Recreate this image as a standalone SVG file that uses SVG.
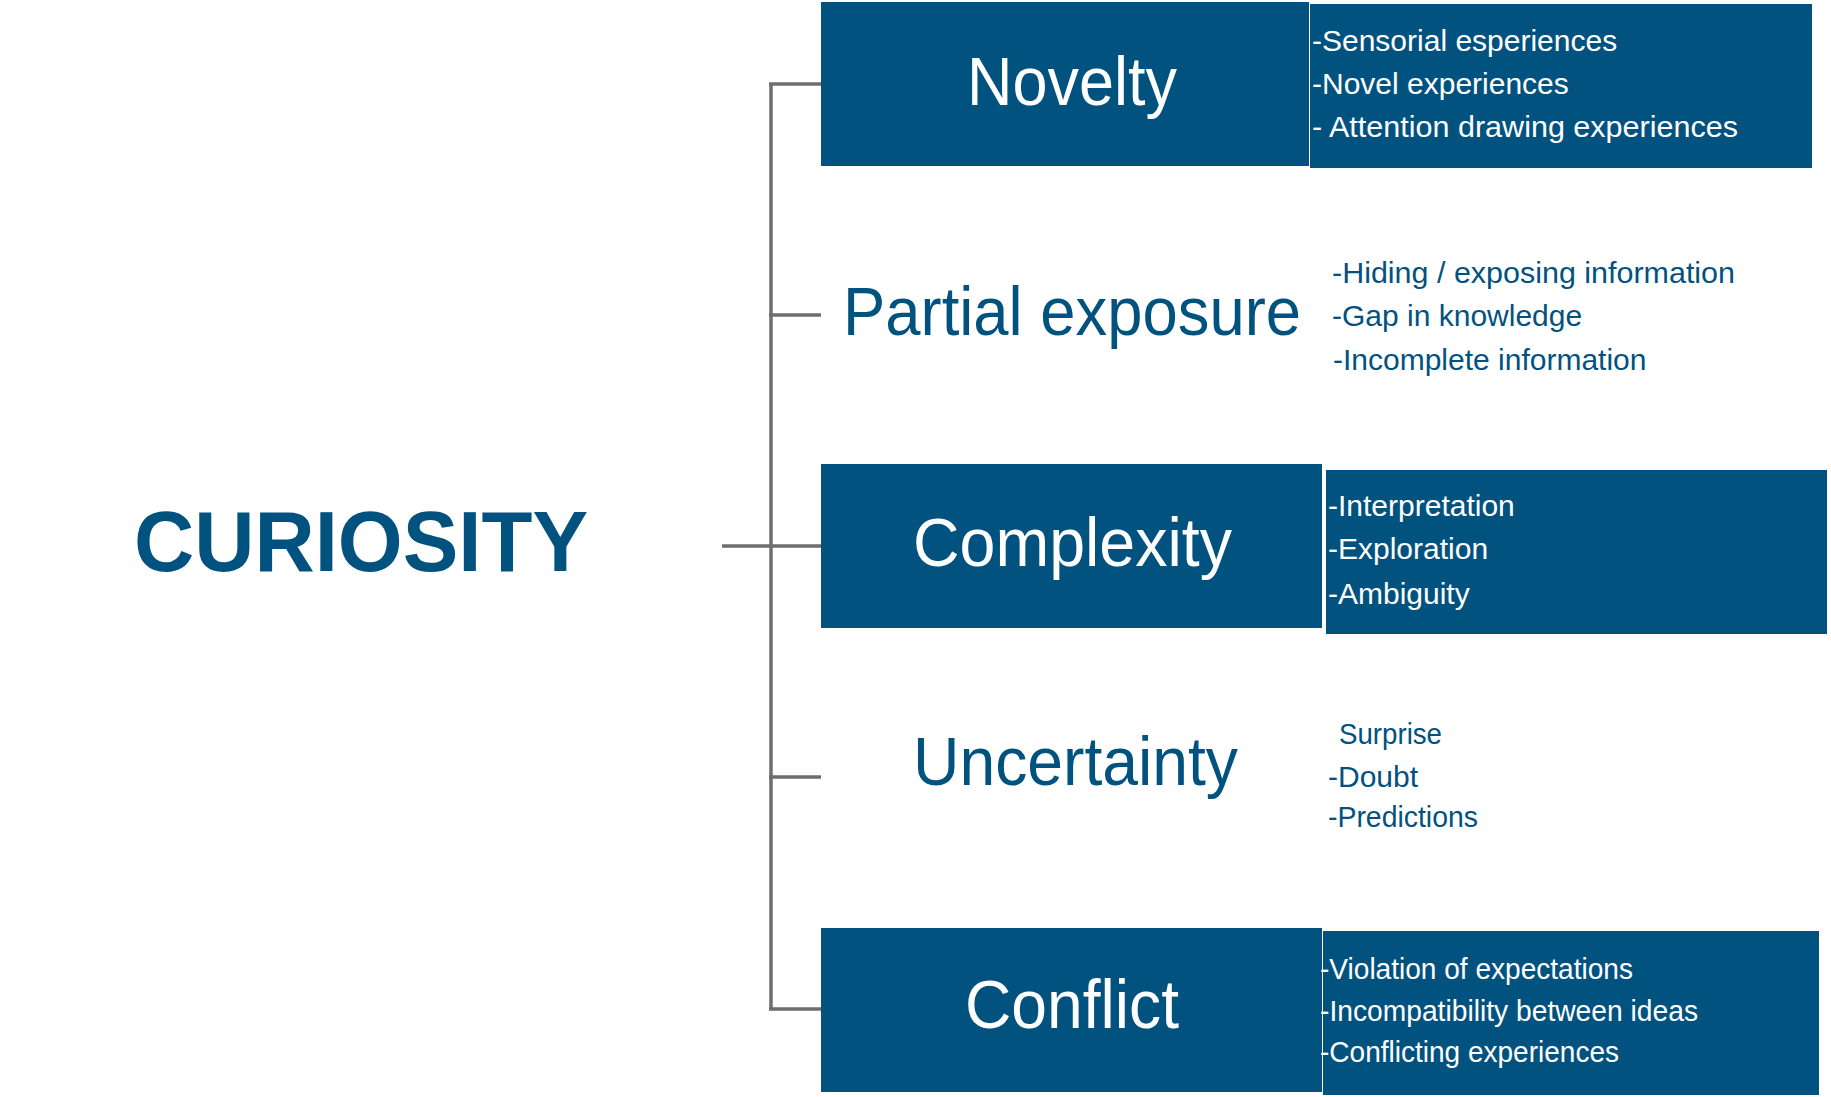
<svg xmlns="http://www.w3.org/2000/svg" width="1831" height="1097" viewBox="0 0 1831 1097">
<style>
.box{fill:#02527f}
.main{font-family:"Liberation Sans",Arial,sans-serif;font-size:68px}
.det{font-family:"Liberation Sans",Arial,sans-serif;font-size:30px}
.w{fill:#ffffff}
.b{fill:#02527f}
.conn{stroke:#6e6e6e;stroke-width:3.5;fill:none}
</style>
<rect width="1831" height="1097" fill="#ffffff"/>
<g id="connectors">
<line class="conn" x1="771" y1="84" x2="771" y2="1009"/>
<line class="conn" x1="769" y1="84" x2="821" y2="84"/>
<line class="conn" x1="769" y1="315" x2="821" y2="315"/>
<line class="conn" x1="722" y1="546" x2="821" y2="546"/>
<line class="conn" x1="769" y1="777" x2="821" y2="777"/>
<line class="conn" x1="769" y1="1009" x2="821" y2="1009"/>
</g>
<g id="curiosity">
<text x="134" y="571" font-family="'Liberation Sans',Arial,sans-serif" font-size="85" font-weight="bold" fill="#02527f" textLength="454" lengthAdjust="spacingAndGlyphs">CURIOSITY</text>
</g>
<g id="novelty">
<rect class="box" x="821" y="2" width="488" height="164"/>
<text class="main w" x="967" y="105" textLength="210" lengthAdjust="spacingAndGlyphs">Novelty</text>
</g>
<g id="novelty-details">
<rect class="box" x="1310" y="4" width="502" height="164"/>
<text class="det w" x="1312" y="51">-Sensorial esperiences</text>
<text class="det w" x="1312" y="94">-Novel experiences</text>
<text class="det w" x="1312" y="137" textLength="426" lengthAdjust="spacingAndGlyphs">- Attention drawing experiences</text>
</g>
<g id="partial-exposure">
<text class="main b" x="843" y="335" textLength="458" lengthAdjust="spacingAndGlyphs">Partial exposure</text>
</g>
<g id="partial-exposure-details">
<text class="det b" x="1332" y="283" textLength="403" lengthAdjust="spacingAndGlyphs">-Hiding / exposing information</text>
<text class="det b" x="1332" y="326">-Gap in knowledge</text>
<text class="det b" x="1333" y="370">-Incomplete information</text>
</g>
<g id="complexity">
<rect class="box" x="821" y="464" width="501" height="164"/>
<text class="main w" x="913" y="566" textLength="319" lengthAdjust="spacingAndGlyphs">Complexity</text>
</g>
<g id="complexity-details">
<rect class="box" x="1326" y="470" width="501" height="164"/>
<text class="det w" x="1328" y="516">-Interpretation</text>
<text class="det w" x="1328" y="559">-Exploration</text>
<text class="det w" x="1328" y="604">-Ambiguity</text>
</g>
<g id="uncertainty">
<text class="main b" x="913" y="785" textLength="325" lengthAdjust="spacingAndGlyphs">Uncertainty</text>
</g>
<g id="uncertainty-details">
<text class="det b" x="1339" y="744" textLength="103" lengthAdjust="spacingAndGlyphs">Surprise</text>
<text class="det b" x="1328" y="787">-Doubt</text>
<text class="det b" x="1328" y="827" textLength="150" lengthAdjust="spacingAndGlyphs">-Predictions</text>
</g>
<g id="conflict">
<rect class="box" x="821" y="928" width="501" height="164"/>
<text class="main w" x="965" y="1028" textLength="214" lengthAdjust="spacingAndGlyphs">Conflict</text>
</g>
<g id="conflict-details">
<rect class="box" x="1323" y="931" width="496" height="164"/>
<text class="det w" x="1320" y="979" textLength="313" lengthAdjust="spacingAndGlyphs">-Violation of expectations</text>
<text class="det w" x="1320" y="1021" textLength="378" lengthAdjust="spacingAndGlyphs">-Incompatibility between ideas</text>
<text class="det w" x="1320" y="1062" textLength="299" lengthAdjust="spacingAndGlyphs">-Conflicting experiences</text>
</g>
</svg>
